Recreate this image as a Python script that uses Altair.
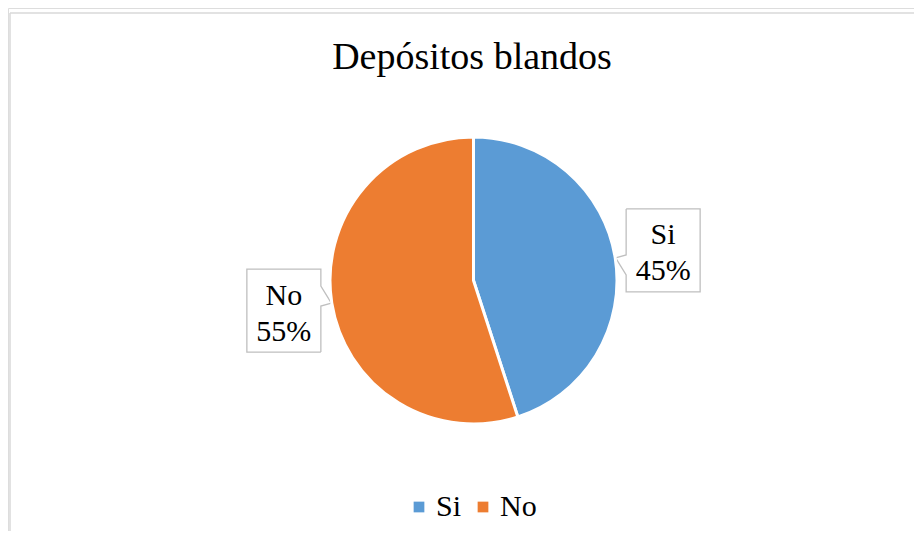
import altair as alt
import pandas as pd
import numpy as np

# ---- data ----
categories = ["Si", "No"]
values = [45, 55]
colors = ["#5B9BD5", "#ED7D31"]
title_text = "Depósitos blandos"

# ---- layout (plot-area pixel coordinates; page offset is 8px) ----
W, H = 906, 523
CX, CY = 465.5, 272.5
R = 143.5
LABEL_R = 192
FONT = "Liberation Serif"

df = pd.DataFrame({"cat": categories, "value": values, "ord": list(range(len(categories)))})
total = sum(values)
df["label"] = [f"{c}\n{round(v / total * 100)}%" for c, v in zip(categories, values)]

# callout boxes, built from the label angles
hw, hh = 37.0, 41.5
base_path = [(-hw, -hh), (hw, -hh), (hw, hh), (-hw, hh), (-hw, 24.5), (-47.5, 7.5), (-hw, 4.5), (-hw, -hh)]
rows = []
cum = 0.0
for c, v in zip(categories, values):
    mid = (cum + v / 2) / total * 2 * np.pi
    cum += v
    lx = CX + LABEL_R * np.sin(mid)
    ly = CY - LABEL_R * np.cos(mid)
    s = 1 if lx > CX else -1  # box right of pie -> notch on left
    for i, (px, py) in enumerate(base_path):
        rows.append({"cat": c, "i": i, "x": lx + s * px, "y": ly + s * py})
box_df = pd.DataFrame(rows)

color_scale = alt.Scale(domain=categories, range=colors)

pie = alt.Chart(df).mark_arc(outerRadius=R, stroke="white", strokeWidth=3).encode(
    theta=alt.Theta("value:Q", stack=True),
    order=alt.Order("ord:Q"),
    color=alt.Color(
        "cat:N",
        scale=color_scale,
        legend=alt.Legend(
            title=None,
            orient="none",
            legendX=396,
            legendY=484,
            direction="horizontal",
            symbolType="square",
            symbolSize=115,
            symbolStrokeWidth=0,
            labelFont=FONT,
            labelFontSize=30,
            labelColor="black",
            labelOffset=2,
            columnPadding=6,
            padding=0,
        ),
    ),
    x=alt.value(CX),
    y=alt.value(CY),
)

labels = alt.Chart(df).mark_text(
    radius=LABEL_R, font=FONT, fontSize=30, color="black", lineBreak="\n", lineHeight=36,
    align="center", baseline="middle", dy=-15,
).encode(
    theta=alt.Theta("value:Q", stack=True),
    order=alt.Order("ord:Q"),
    detail="cat:N",
    text="label:N",
    x=alt.value(CX),
    y=alt.value(CY),
)

boxes = alt.Chart(box_df).mark_line(color="#bfbfbf", strokeWidth=1.3).encode(
    x=alt.X("x:Q", scale=alt.Scale(domain=[0, W], nice=False, zero=False), axis=None),
    y=alt.Y("y:Q", scale=alt.Scale(domain=[0, H], nice=False, zero=False, reverse=True), axis=None),
    order="i:Q",
    detail="cat:N",
)

title = alt.Chart(pd.DataFrame({"t": [title_text]})).mark_text(
    font=FONT, fontSize=38, color="black", align="center", baseline="alphabetic"
).encode(text="t:N", x=alt.value(464), y=alt.value(61))

border_left = alt.Chart(pd.DataFrame({"a": [0]})).mark_rule(color="#d9d9d9", strokeWidth=1.5).encode(
    x=alt.value(2), y=alt.value(5), y2=alt.value(H)
)
border_top = alt.Chart(pd.DataFrame({"a": [0]})).mark_rule(color="#d9d9d9", strokeWidth=1.5).encode(
    x=alt.value(2), x2=alt.value(W), y=alt.value(5)
)

chart = alt.layer(border_left, border_top, boxes, pie, labels, title).properties(
    width=W, height=H, autosize=alt.AutoSizeParams(type="none"), padding=0
).configure_view(stroke=None).configure(background="white")

chart.save("out.html", embed_options={"renderer": "svg", "actions": False})
